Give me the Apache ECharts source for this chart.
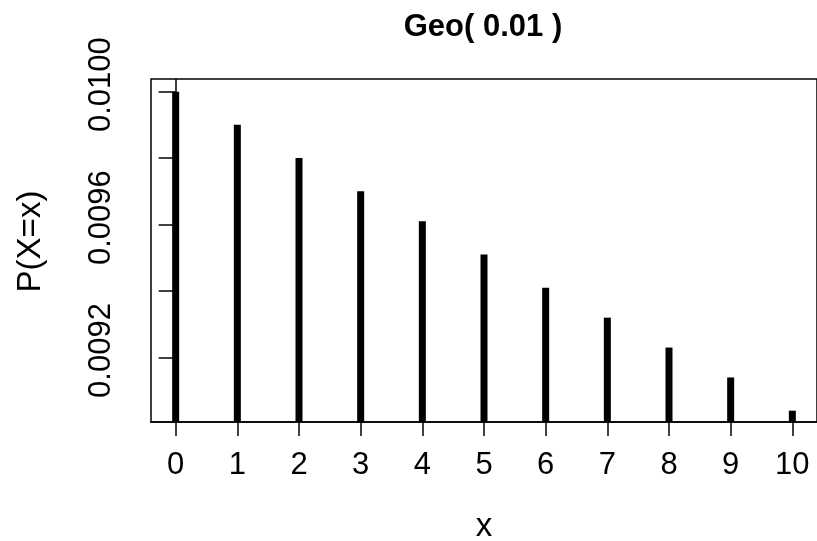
<!DOCTYPE html>
<html><head><meta charset="utf-8">
<script src="https://cdn.jsdelivr.net/npm/echarts@6/dist/echarts.min.js"></script>
<style>html,body{margin:0;padding:0;background:#fff}#c{width:817px;height:541px}</style>
</head><body><div id="c"></div>
<script>
const xValues = [0, 1, 2, 3, 4, 5, 6, 7, 8, 9, 10];
const probabilities = [0.0100, 0.0099, 0.0098, 0.00970, 0.00961, 0.00951, 0.00941, 0.00932, 0.00923, 0.00914, 0.00904];
const xTickValues = [0, 1, 2, 3, 4, 5, 6, 7, 8, 9, 10];
const yTickValues = [0.0092, 0.0094, 0.0096, 0.0098, 0.0100];
const yLabelValues = [0.0092, 0.0096, 0.0100];
const titleText = 'Geo( 0.01 )';
const xName = 'x';
const yName = 'P(X=x)';

const FONT = '"Liberation Sans", Arial, Helvetica, sans-serif';
const chart = echarts.init(document.getElementById('c'), null, {renderer: 'canvas'});
chart.setOption({
  animation: false,
  backgroundColor: '#fff',
  graphic: [{
    type: 'text', x: 483, y: 27,
    style: {text: titleText, fill: '#000', font: 'bold 31px ' + FONT, textAlign: 'center', textVerticalAlign: 'middle'}
  }],
  grid: {left: 151, top: 79, width: 666, height: 343, outerBoundsMode: 'none', containLabel: false,
         show: true, borderColor: '#000', borderWidth: 1.5, backgroundColor: 'transparent'},
  xAxis: {
    type: 'value', min: -0.4, max: 10.4,
    name: xName, nameLocation: 'middle', nameGap: 88,
    nameTextStyle: {color: '#000', fontSize: 33, fontFamily: FONT},
    axisLine: {show: true, onZero: false, lineStyle: {color: '#000', width: 1.5}},
    axisTick: {show: true, length: 14, customValues: xTickValues, lineStyle: {color: '#000', width: 1.5}},
    axisLabel: {show: true, customValues: xTickValues, margin: 28, color: '#000', fontSize: 31, fontFamily: FONT, formatter: v => String(v)},
    splitLine: {show: false}
  },
  yAxis: {
    type: 'value', min: 0.009006, max: 0.010038, startValue: 0.009006,
    name: yName, nameLocation: 'middle', nameGap: 104, nameRotate: 90,
    nameTextStyle: {color: '#000', fontSize: 33, fontFamily: FONT, padding: [0, 0, 0, 18]},
    axisLine: {show: true, lineStyle: {color: '#000', width: 1.5}},
    axisTick: {show: true, length: 17, customValues: yTickValues, lineStyle: {color: '#000', width: 1.5}},
    axisLabel: {show: true, rotate: 90, customValues: yLabelValues, margin: 34, color: '#000', fontSize: 31, fontFamily: FONT,
                padding: [0, 0, 0, 14], formatter: v => v.toFixed(4)},
    splitLine: {show: false}
  },
  series: [{
    type: 'bar',
    data: xValues.map((x, i) => [x, probabilities[i]]),
    barWidth: 7,
    clip: true,
    itemStyle: {color: '#000'}
  }]
});
</script></body></html>
